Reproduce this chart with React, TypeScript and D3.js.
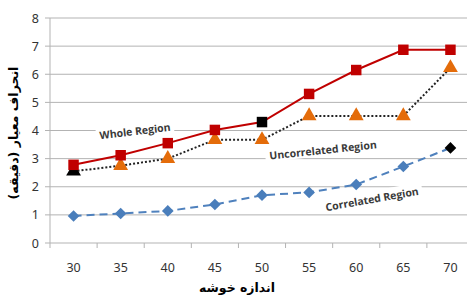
import React from "react";
import * as d3 from "d3";

const categories = ["30", "35", "40", "45", "50", "55", "60", "65", "70"];
const wholeRegion = [2.78, 3.12, 3.55, 4.02, 4.3, 5.3, 6.15, 6.87, 6.87];
const uncorrelated = [2.55, 2.75, 3.0, 3.67, 3.67, 4.52, 4.52, 4.52, 6.23];
const correlated = [0.96, 1.05, 1.14, 1.37, 1.7, 1.8, 2.08, 2.72, 3.38];
const yTicks = [0, 1, 2, 3, 4, 5, 6, 7, 8];
// index of points drawn with a black marker
const wholeBlack = [4];
const uncorrBlack = [0];
const corrBlack = [8];

const W = 467;
const H = 297;

export default function App() {
  const x = d3.scaleBand<string>().domain(categories).range([50, 474]);
  const y = d3.scaleLinear().domain([0, 8]).range([243, 18]);
  const cx = (c: string) => (x(c) as number) + x.bandwidth() / 2;

  const line = (vals: number[]) =>
    d3.line<number>().x((_, i) => cx(categories[i])).y((v) => y(v))(vals) as string;

  const sq = d3.symbol(d3.symbolSquare, 110)() as string;
  const tri = d3.symbol(d3.symbolTriangle, 95)() as string;
  const dia = d3.symbol(d3.symbolSquare, 68)() as string;

  const ticks = d3.range(categories.length + 1).map((i) => 50 + i * x.step());

  const label = (text: string, px: number, py: number, angle: number, w: number) => (
    <g transform={`translate(${px},${py}) rotate(${angle})`}>
      <rect x={-w / 2} y={-8} width={w} height={14} fill="#fff" />
      <text
        textAnchor="middle"
        y={4}
        fontFamily="'Open Sans', sans-serif"
        fontWeight={700}
        fontSize={10.5}
        fill="#3a3a3a"
      >
        {text}
      </text>
    </g>
  );

  return (
    <svg width={W} height={H} style={{ position: "absolute", left: 0, top: 0, background: "#fff" }}>
      {yTicks.map((t) => (
        <g key={t}>
          <line x1={45} x2={W} y1={y(t)} y2={y(t)} stroke="#b3b3b3" strokeWidth={1} />
          <text
            x={39}
            y={y(t) + 4.5}
            textAnchor="end"
            fontFamily="'Noto Sans', sans-serif"
            fontSize={12.5}
            fill="#333"
          >
            {t}
          </text>
        </g>
      ))}
      <line x1={50} x2={50} y1={18} y2={243} stroke="#b3b3b3" />
      {ticks.map((t, i) => (
        <line key={i} x1={t} x2={t} y1={243} y2={248} stroke="#b3b3b3" />
      ))}
      {categories.map((c) => (
        <text
          key={c}
          x={cx(c)}
          y={272}
          textAnchor="middle"
          fontFamily="'Noto Sans', sans-serif"
          fontSize={12.5}
          fill="#333"
        >
          {c}
        </text>
      ))}

      {label("Whole Region", 135, 131, -7, 78)}
      {label("Uncorrelated Region", 323, 150, -6, 116)}
      {label("Correlated Region", 372, 199, -10, 102)}

      <path d={line(correlated)} fill="none" stroke="#4f81bd" strokeWidth={2} strokeDasharray="8,5" />
      <path d={line(uncorrelated)} fill="none" stroke="#222" strokeWidth={2} strokeDasharray="2,2" />
      <path d={line(wholeRegion)} fill="none" stroke="#c00000" strokeWidth={2} />

      {correlated.map((v, i) => (
        <path
          key={"c" + i}
          d={dia}
          transform={`translate(${cx(categories[i])},${y(v)}) rotate(45)`}
          fill={corrBlack.includes(i) ? "#000" : "#4a7ebb"}
        />
      ))}
      {uncorrelated.map((v, i) => (
        <path
          key={"u" + i}
          d={tri}
          transform={`translate(${cx(categories[i])},${y(v)})`}
          fill={uncorrBlack.includes(i) ? "#000" : "#e46c0a"}
        />
      ))}
      {wholeRegion.map((v, i) => (
        <path
          key={"w" + i}
          d={sq}
          transform={`translate(${cx(categories[i])},${y(v)})`}
          fill={wholeBlack.includes(i) ? "#000" : "#c00000"}
        />
      ))}

      <text
        transform="translate(18,133) rotate(-90)"
        textAnchor="middle"
        fontFamily="'DejaVu Sans', sans-serif"
        fontWeight="bold"
        fontSize={12.5}
        fill="#000"
        direction="rtl"
      >
        انحراف معیار (دقیقه)
      </text>
      <text
        x={237}
        y={292}
        textAnchor="middle"
        fontFamily="'DejaVu Sans', sans-serif"
        fontWeight="bold"
        fontSize={12.5}
        fill="#000"
        direction="rtl"
      >
        اندازه خوشه
      </text>
    </svg>
  );
}
